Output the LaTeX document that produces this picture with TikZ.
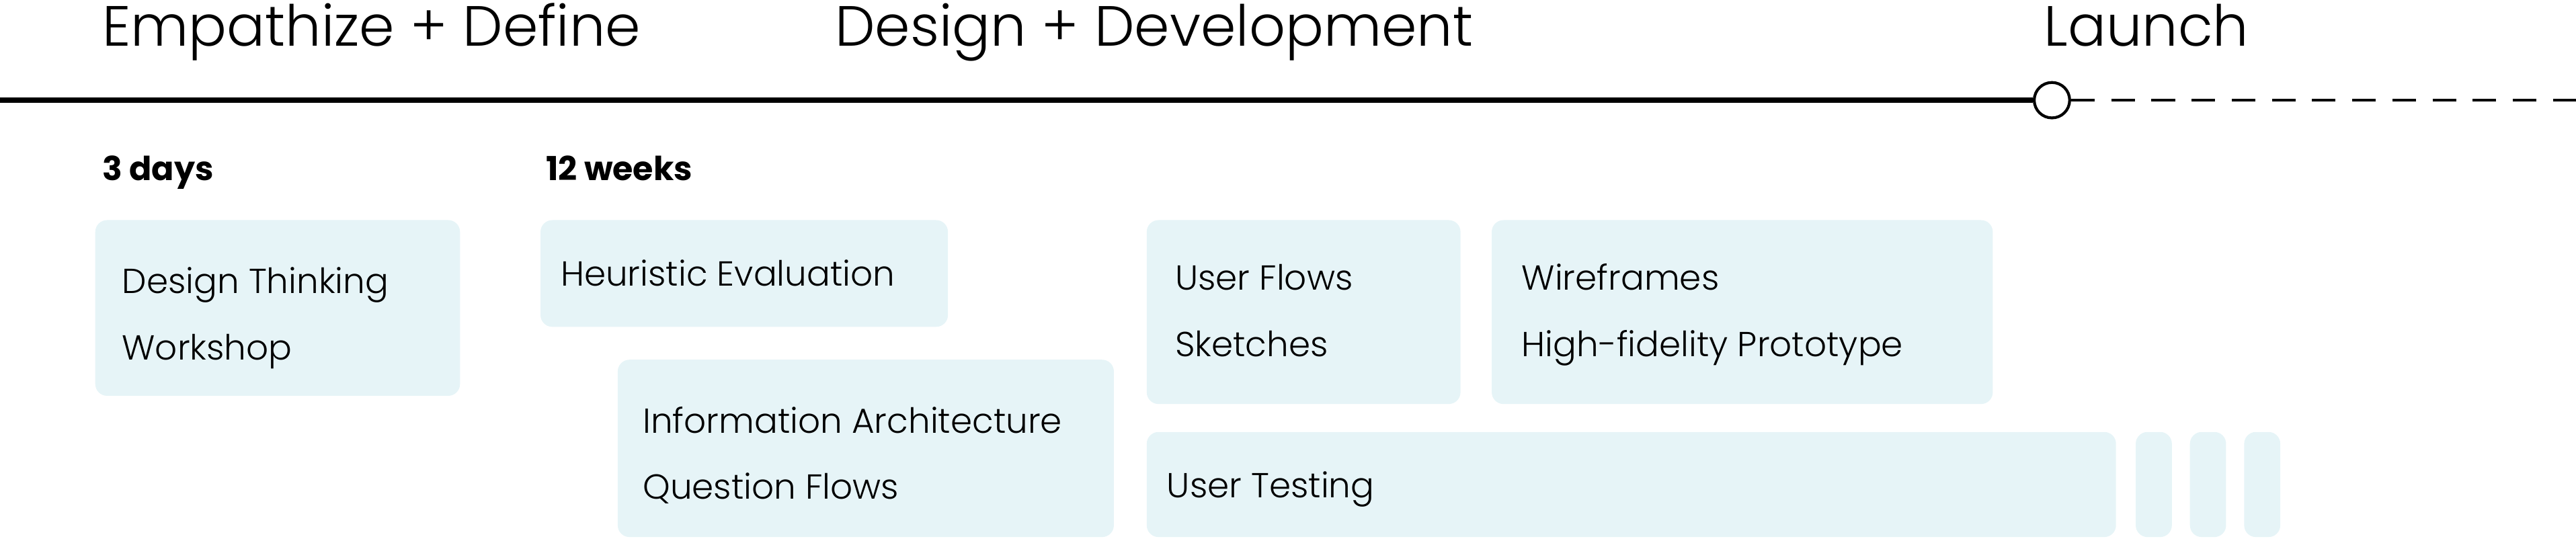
\documentclass[tikz,border=0pt]{standalone}
\usepackage{fontspec}
\setmainfont{Poppins}
\newfontfamily\lightfont{Poppins Light}
\usepackage{xcolor}
\definecolor{boxblue}{HTML}{E6F4F7}
\usetikzlibrary{positioning}

\begin{document}
\begin{tikzpicture}[
      x=0.02444cm, y=-0.02444cm,
      every node/.style={inner sep=0pt, anchor=base west},
      phase/.style={font=\lightfont\fontsize{24}{30}\selectfont},
      span/.style={font=\bfseries\fontsize{14}{16}\selectfont},
      task/.style={font=\lightfont\fontsize{14.7}{28}\selectfont, align=left},
      box/.style={fill=boxblue, rounded corners=5pt}
  ]
  \useasboundingbox (0,0) rectangle (1568,329);

  % PHASES
  \node[phase] (empathize) at (62,28) {Empathize + Define};
  \node[phase] (develop) at (508,28) {Design + Development};
  \node[phase] (launch) at (1244,28) {Launch};

  % TIMELINE
  \coordinate (start) at (0,61);
  \coordinate (finish) at (1568,61);
  \node[draw, circle, line width=1.2pt, minimum size=15pt, anchor=center] (milestone) at (1249,61) {};
  \draw[line width=2.4pt] (start) -- (milestone);
  \draw[line width=1.2pt, dash pattern=on 10pt off 7pt] (milestone) -- (finish);

  % DURATIONS
  \node[span] (days) at (62,110) {3 days};
  \node[span] (weeks) at (332,110) {12 weeks};

  % BOXES
  \fill[box] (58,134) rectangle (280,241);
  \fill[box] (329,134) rectangle (577,199);
  \fill[box] (376,219) rectangle (678,327);
  \fill[box] (698,134) rectangle (889,246);
  \fill[box] (908,134) rectangle (1213,246);
  \fill[box] (698,263) rectangle (1288,327);
  \foreach \x in {1300,1333,1366}{
    \fill[box] (\x,263) rectangle ++(22,64);
  }

  % TASKS
  \node[task] (workshop) at (74,219) {Design Thinking\\Workshop};
  \node[task] (heuristic) at (341,174) {Heuristic Evaluation};
  \node[task] (architecture) at (391,304) {Information Architecture\\Question Flows};
  \node[task] (flows) at (715,217) {User Flows\\Sketches};
  \node[task] (wireframes) at (926,217) {Wireframes\\High-fidelity Prototype};
  \node[task] (testing) at (710,303) {User Testing};
\end{tikzpicture}
\end{document}
